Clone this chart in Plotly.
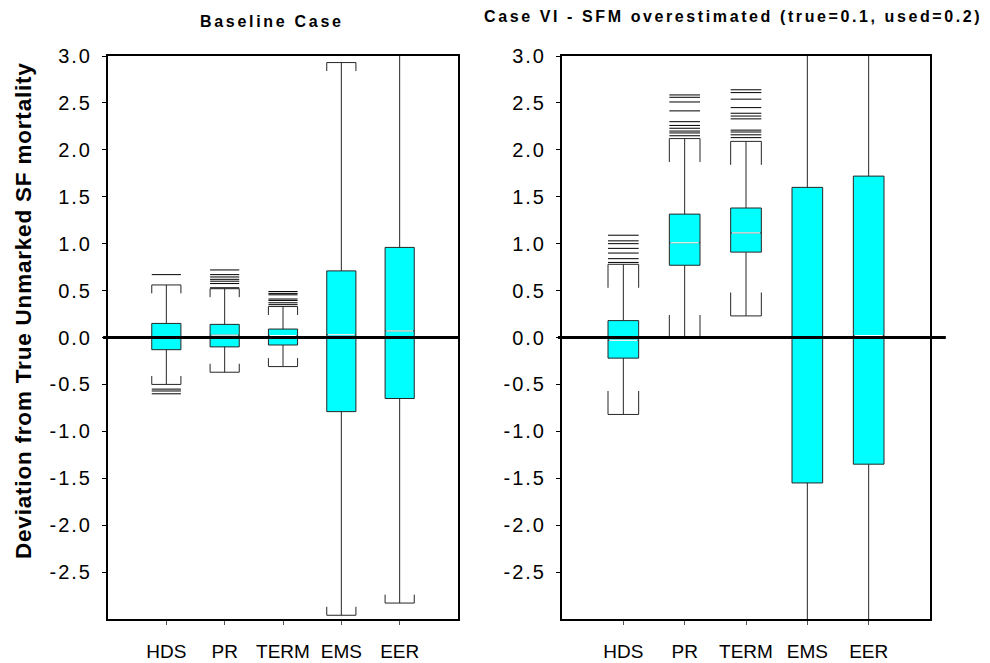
import plotly.graph_objects as go

# ---------------------------------------------------------------- data
categories = ["HDS", "PR", "TERM", "EMS", "EER"]

# Baseline Case: box-plot summary statistics per estimator
base_q1 = [-0.13, -0.10, -0.08, -0.79, -0.65]
base_median = [0.01, 0.025, 0.02, 0.03, 0.07]
base_q3 = [0.15, 0.14, 0.09, 0.71, 0.96]
base_lower = [-0.50, -0.37, -0.31, -2.96, -2.83]
base_upper = [0.56, 0.52, 0.33, 2.93, 3.15]
base_outliers = [
    [0.67, -0.55, -0.57, -0.60],
    [0.72, 0.67, 0.645, 0.62, 0.60, 0.575, 0.53],
    [0.49, 0.47, 0.455, 0.41, 0.395, 0.37, 0.35],
    [],
    [],
]

# Case VI - SFM overestimated (true=0.1, used=0.2)
case6_q1 = [-0.22, 0.77, 0.91, -1.55, -1.35]
case6_median = [-0.03, 1.01, 1.115, 0.00, 0.02]
case6_q3 = [0.18, 1.315, 1.38, 1.60, 1.72]
case6_lower = [-0.82, -0.01, 0.23, -4.10, -3.70]
case6_upper = [0.78, 2.12, 2.09, 4.20, 4.60]
case6_outliers = [
    [1.09, 1.03, 1.00, 0.95, 0.90, 0.84, 0.80],
    [2.585, 2.56, 2.51, 2.415, 2.30, 2.26, 2.23, 2.20, 2.18, 2.15],
    [2.64, 2.61, 2.54, 2.45, 2.39, 2.36, 2.33, 2.21, 2.19, 2.16, 2.13],
    [],
    [],
]

y_tick_values = [3.0, 2.5, 2.0, 1.5, 1.0, 0.5, 0.0, -0.5, -1.0, -1.5, -2.0, -2.5]

# ---------------------------------------------------------------- style
FONT = "Liberation Sans"
BOX_FILL = "#00FFFF"
EDGE = "#262626"
BOX_WIDTH = 0.5
HALF = BOX_WIDTH / 2


def spaced(text, px):
    return f'<span style="letter-spacing:{px}px">{text}</span>'


def segments(pairs):
    xs, ys = [], []
    for (x0, y0), (x1, y1) in pairs:
        xs += [x0, x1, None]
        ys += [y0, y1, None]
    return xs, ys


def add_panel(fig, col, q1, med, q3, lo, hi, outliers, bracket_len):
    pos = list(range(len(categories)))
    fig.add_trace(
        go.Box(
            x=pos, q1=q1, median=med, q3=q3, lowerfence=lo, upperfence=hi,
            width=BOX_WIDTH, whiskerwidth=1, fillcolor=BOX_FILL,
            line=dict(color=EDGE, width=1), boxpoints=False,
            showlegend=False, hoverinfo="skip",
            xaxis=f"x{col}", yaxis=f"y{col}",
        )
    )
    # white median line
    xs, ys = segments([((p - HALF + 0.02, m), (p + HALF - 0.02, m)) for p, m in zip(pos, med)])
    fig.add_trace(go.Scatter(x=xs, y=ys, mode="lines", line=dict(color="white", width=1.2),
                             showlegend=False, hoverinfo="skip", xaxis=f"x{col}", yaxis=f"y{col}"))
    # bracket ends on the whisker caps
    pairs = []
    for p, l, h in zip(pos, lo, hi):
        for side in (-HALF, HALF):
            pairs.append(((p + side, h), (p + side, h - bracket_len)))
            pairs.append(((p + side, l), (p + side, l + bracket_len)))
    xs, ys = segments(pairs)
    fig.add_trace(go.Scatter(x=xs, y=ys, mode="lines", line=dict(color=EDGE, width=1),
                             showlegend=False, hoverinfo="skip", xaxis=f"x{col}", yaxis=f"y{col}"))
    # outliers drawn as short horizontal dashes
    pairs = [((p - HALF, v), (p + HALF, v)) for p, vals in zip(pos, outliers) for v in vals]
    xs, ys = segments(pairs)
    fig.add_trace(go.Scatter(x=xs, y=ys, mode="lines", line=dict(color="black", width=1),
                             showlegend=False, hoverinfo="skip", xaxis=f"x{col}", yaxis=f"y{col}"))


fig = go.Figure()
add_panel(fig, "", base_q1, base_median, base_q3, base_lower, base_upper, base_outliers, 0.09)
add_panel(fig, "2", case6_q1, case6_median, case6_q3, case6_lower, case6_upper, case6_outliers, 0.25)

W, H = 990, 663
y_dom = [1 - 619 / H, 1 - 56 / H]

xaxis_common = dict(
    range=[-1, 5], tickmode="array", tickvals=list(range(len(categories))),
    ticktext=categories, ticks="outside", ticklen=4, tickcolor="#555",
    showline=True, linecolor="black", linewidth=2, mirror=True,
    showgrid=False, zeroline=False, tickfont=dict(family=FONT, size=19, color="black"),
    ticklabelstandoff=10, automargin=False,
)
yaxis_common = dict(
    range=[-3, 3], tickmode="array", tickvals=y_tick_values,
    ticktext=[spaced(f"{v:.1f}", 2) for v in y_tick_values],
    ticks="outside", ticklen=4, tickcolor="black",
    showline=True, linecolor="black", linewidth=2, mirror=True,
    showgrid=False, zeroline=False, tickfont=dict(family=FONT, size=20, color="black"),
    ticklabelstandoff=6, automargin=False,
)

fig.update_layout(
    width=W, height=H, margin=dict(l=0, r=0, t=0, b=0, pad=0, autoexpand=False),
    paper_bgcolor="white", plot_bgcolor="white",
    xaxis=dict(domain=[108 / W, 458 / W], anchor="y", **xaxis_common),
    yaxis=dict(domain=y_dom, anchor="x", **yaxis_common),
    xaxis2=dict(domain=[562 / W, 930 / W], anchor="y2", **xaxis_common),
    yaxis2=dict(domain=y_dom, anchor="x2", **yaxis_common),
)

# reference line at zero deviation
fig.add_shape(type="line", xref="x domain", yref="y", x0=-0.014, x1=1.0, y0=0, y1=0,
              line=dict(color="black", width=3), layer="above")
fig.add_shape(type="line", xref="x2 domain", yref="y2", x0=-0.011, x1=1.043, y0=0, y1=0,
              line=dict(color="black", width=3), layer="above")

fig.add_annotation(text="<b>" + spaced("Baseline Case", 2.7) + "</b>", xref="paper", yref="paper",
                   x=272 / W, y=1 - 21 / H, xanchor="center", yanchor="middle", showarrow=False,
                   font=dict(family=FONT, size=16, color="black"))
fig.add_annotation(text="<b>" + spaced("Case VI - SFM overestimated (true=0.1, used=0.2)", 2.6) + "</b>",
                   xref="paper", yref="paper", x=733 / W, y=1 - 16 / H,
                   xanchor="center", yanchor="middle", showarrow=False,
                   font=dict(family=FONT, size=16, color="black"))
fig.add_annotation(text="<b>" + spaced("Deviation from True Unmarked SF mortality", 0.8) + "</b>",
                   xref="paper", yref="paper", x=23 / W, y=1 - 311 / H, textangle=-90,
                   xanchor="center", yanchor="middle", showarrow=False,
                   font=dict(family=FONT, size=22.5, color="black"))

fig.write_html("out.html")
